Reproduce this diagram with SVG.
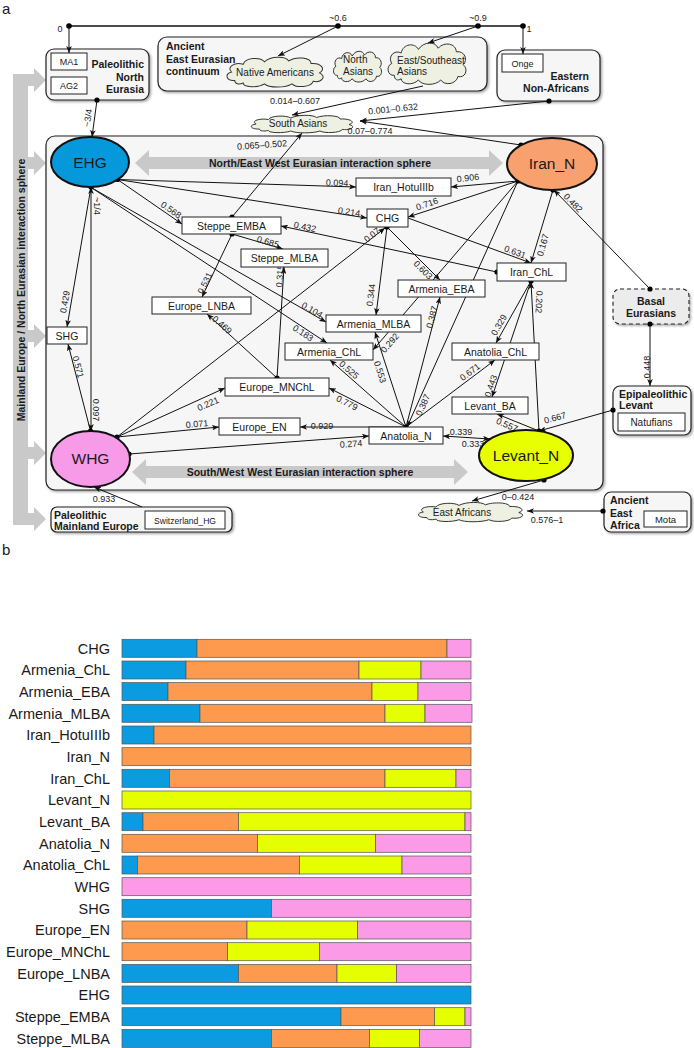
<svg xmlns="http://www.w3.org/2000/svg" xmlns:xlink="http://www.w3.org/1999/xlink" width="694" height="1048" viewBox="0 0 694 1048">
<style>
text{font-family:"Liberation Sans",Arial,Helvetica,sans-serif;fill:#1a1a1a}
.n{font-size:10.5px;text-anchor:middle}
.lb{font-size:9px;text-anchor:middle;dominant-baseline:central;fill:#222}
.g{font-size:10.5px;font-weight:bold}
.gr{font-size:10.5px;font-weight:bold;text-anchor:end}
.gm{font-size:10.5px;font-weight:bold;text-anchor:middle}
.box{fill:#fff;stroke:#222;stroke-width:1}
.grp{fill:#f6f6f6;stroke:#222;stroke-width:1.2;filter:url(#sh)}
.ell{stroke:#111;stroke-width:2}
.et{font-size:15.5px;text-anchor:middle}
.ct{font-size:10px}
.band{fill:#c9c9c9}
.bt{font-size:10.5px;font-weight:bold;fill:#1a1a1a}
.bl{font-size:14.5px;text-anchor:end}
.bar rect{stroke:#555;stroke-width:0.7}
.B{fill:#0a9be0}.O{fill:#fd9a4e}.Y{fill:#e6ff00}.P{fill:#fb9ae6}
</style>
<defs>
<filter id="sh" x="-10%" y="-10%" width="130%" height="140%"><feDropShadow dx="1.5" dy="1.5" stdDeviation="1" flood-color="#000" flood-opacity="0.35"/></filter>
<marker id="ah" viewBox="0 0 10 8" refX="10" refY="4" markerWidth="7" markerHeight="5.6" orient="auto-start-reverse" markerUnits="userSpaceOnUse"><path d="M0,0 L10,4 L0,8 L2.5,4 z" fill="#111"/></marker>
<symbol id="cloud" viewBox="0 0 100 40" preserveAspectRatio="none"><path vector-effect="non-scaling-stroke" fill="#eef0e2" stroke="#333" stroke-width="1" d="M12,30 C4,31 2,22 9,20 C4,14 12,8 20,11 C22,3 36,2 40,8 C46,1 60,1 63,7 C70,1 84,3 84,10 C94,9 98,17 92,21 C99,25 94,33 86,31 C84,38 70,39 66,34 C60,39 44,39 40,34 C34,39 20,38 20,33 C16,35 12,34 12,30 Z"/></symbol>
</defs>
<rect width="694" height="1048" fill="#fff"/>
<text x="2" y="14" style="font-size:15px">a</text>
<text x="2" y="555" style="font-size:15px">b</text>

<!-- left band -->
<g id="mainland-band">
<path class="band" d="M13,74 L34,74 L34,68 L46,80 L34,92 L34,86 L28,86 L28,157 L34,157 L34,151 L46,163 L34,175 L34,169 L28,169 L28,330 L34,330 L34,324 L46,336 L34,348 L34,342 L28,342 L28,447 L34,447 L34,441 L46,453 L34,465 L34,459 L28,459 L28,513 L34,513 L34,507 L46,519 L34,531 L34,525 L13,525 Z"/>
<text class="bt" text-anchor="middle" transform="translate(24.5,290) rotate(-90)">Mainland Europe / North Eurasian interaction sphere</text>
</g>

<!-- big interaction box -->
<g id="interaction-box">
<rect class="grp" x="46" y="136" width="557" height="354" rx="9"/>
<path class="band" d="M135,163 L149,150 L149,157 L489,157 L489,150 L503,163 L489,176 L489,169 L149,169 L149,176 Z"/>
<text class="bt" x="320" y="167" text-anchor="middle">North/East West Eurasian interaction sphere</text>
<path class="band" d="M132,472 L146,459 L146,466 L454,466 L454,459 L468,472 L454,485 L454,478 L146,478 L146,485 Z"/>
<text class="bt" x="300" y="476" text-anchor="middle">South/West West Eurasian interaction sphere</text>
</g>

<!-- group boxes -->
<g id="paleolithic-north-eurasia">
<rect class="grp" x="46" y="49" width="103" height="51" rx="8"/>
<rect class="box" x="51" y="53" width="36" height="17"/><text class="n" x="69" y="65" style="font-size:9px">MA1</text>
<rect class="box" x="51" y="77" width="36" height="17"/><text class="n" x="69" y="89" style="font-size:9px">AG2</text>
<text class="gr" x="144" y="68">Paleolithic</text><text class="gr" x="144" y="81">North</text><text class="gr" x="144" y="93">Eurasia</text>
</g>
<g id="ancient-east-eurasian">
<rect class="grp" x="158" y="37" width="329" height="54" rx="9"/>
<text class="g" x="166" y="50">Ancient</text><text class="g" x="166" y="63">East Eurasian</text><text class="g" x="166" y="75">continuum</text>
</g>
<g id="native-americans"><use xlink:href="#cloud" x="222" y="55" width="106" height="34"/><text class="ct" x="275" y="76" text-anchor="middle">Native Americans</text></g>
<g id="north-asians"><use xlink:href="#cloud" x="331" y="49" width="53" height="35"/><text class="ct" x="343" y="63">North</text><text class="ct" x="343" y="75">Asians</text></g>
<g id="east-southeast-asians"><use xlink:href="#cloud" x="384" y="40" width="86" height="47"/><text class="ct" x="397" y="64">East/Southeast</text><text class="ct" x="397" y="75">Asians</text></g>
<g id="eastern-non-africans">
<rect class="grp" x="497" y="50" width="103" height="51" rx="8"/>
<rect class="box" x="502" y="54" width="41" height="18"/><text class="n" x="522.5" y="66.5" style="font-size:9px">Onge</text>
<text class="gr" x="589" y="80">Eastern</text><text class="gr" x="589" y="92">Non-Africans</text>
</g>
<g id="south-asians"><use xlink:href="#cloud" x="246" y="114" width="112" height="20"/><text class="ct" x="298" y="127" text-anchor="middle">South Asians</text></g>
<g id="basal-eurasians">
<rect x="613" y="289" width="76" height="35" rx="7" fill="#ececec" stroke="#222" stroke-width="1.1" stroke-dasharray="4,3" filter="url(#sh)"/>
<text class="gm" x="651" y="305">Basal</text><text class="gm" x="651" y="317">Eurasians</text>
</g>
<g id="epipaleolithic-levant">
<rect class="grp" x="613" y="386" width="78" height="49" rx="7"/>
<text class="g" x="619" y="398">Epipaleolithic</text><text class="g" x="619" y="409">Levant</text>
<rect class="box" x="618" y="413" width="67" height="18"/><text class="n" x="651.5" y="426" style="font-size:10px">Natufians</text>
</g>
<g id="ancient-east-africa">
<rect class="grp" x="604" y="492" width="87" height="40" rx="7"/>
<text class="g" x="610" y="504">Ancient</text><text class="g" x="610" y="517">East</text><text class="g" x="610" y="529">Africa</text>
<rect class="box" x="644" y="511" width="43" height="16"/><text class="n" x="665.5" y="523" style="font-size:9.5px">Mota</text>
</g>
<g id="paleolithic-mainland-europe">
<rect class="grp" x="51" y="507" width="181" height="25" rx="6"/>
<text class="g" x="54" y="519">Paleolithic</text><text class="g" x="54" y="530">Mainland Europe</text>
<rect class="box" x="145" y="511" width="80" height="18"/><text class="n" x="185" y="523.5" style="font-size:8.6px">Switzerland_HG</text>
</g>
<g id="east-africans"><use xlink:href="#cloud" x="413" y="501" width="115" height="22"/><text class="ct" x="462" y="516" text-anchor="middle">East Africans</text></g>

<!-- connectors -->
<g id="connectors" fill="none" stroke="#111" stroke-width="1">
<line x1="69" y1="26" x2="523" y2="26" stroke-width="1.3"/>
<g marker-end="url(#ah)">
<line x1="69" y1="26" x2="69" y2="53"/>
<line x1="523" y1="26" x2="523" y2="54"/>
<line x1="338" y1="26" x2="278" y2="56"/>
<line x1="478" y1="26" x2="428" y2="43"/>
<line x1="423" y1="86" x2="292" y2="115"/>
<line x1="549" y1="101" x2="360" y2="121"/>
<line x1="521" y1="145" x2="360" y2="121"/>
<line x1="232" y1="217" x2="302" y2="133"/>
<line x1="97" y1="100" x2="92" y2="137"/>
<line x1="117.5" y1="179.5" x2="356" y2="187"/>
<line x1="117.5" y1="179.5" x2="367" y2="218"/>
<line x1="117.5" y1="179.5" x2="182" y2="224"/>
<line x1="92" y1="188" x2="326" y2="322"/>
<line x1="92" y1="188" x2="327" y2="343"/>
<line x1="91" y1="187" x2="67" y2="327"/>
<line x1="91" y1="187" x2="91" y2="431" marker-start="url(#ah)"/>
<line x1="90.5" y1="431" x2="68" y2="344"/>
<line x1="117" y1="437" x2="385" y2="228"/>
<line x1="117" y1="437" x2="225" y2="388"/>
<line x1="117" y1="437" x2="219" y2="427"/>
<line x1="129" y1="454" x2="369" y2="436"/>
<line x1="142" y1="507" x2="94" y2="487"/>
<line x1="518" y1="181" x2="451" y2="187"/>
<line x1="518" y1="181" x2="408" y2="217"/>
<line x1="518" y1="181" x2="373" y2="350"/>
<line x1="518" y1="181" x2="407" y2="427"/>
<line x1="553" y1="190" x2="531" y2="263"/>
<line x1="650" y1="289" x2="554" y2="190"/>
<line x1="408" y1="218" x2="531" y2="263"/>
<line x1="497" y1="272" x2="281" y2="226"/>
<line x1="387" y1="227" x2="376" y2="315"/>
<line x1="387" y1="227" x2="440" y2="280"/>
<line x1="232" y1="234" x2="202" y2="297"/>
<line x1="232" y1="234" x2="283" y2="249"/>
<line x1="277" y1="378" x2="284" y2="267"/>
<line x1="277" y1="378" x2="207" y2="314"/>
<line x1="406" y1="427" x2="329" y2="388"/>
<line x1="406" y1="427" x2="330" y2="360"/>
<line x1="406" y1="427" x2="375" y2="332"/>
<line x1="406" y1="427" x2="440" y2="297"/>
<line x1="406" y1="427" x2="495" y2="360"/>
<line x1="406" y1="427" x2="300" y2="427"/>
<line x1="531" y1="281" x2="496" y2="343"/>
<line x1="531" y1="281" x2="492" y2="397"/>
<line x1="539" y1="431" x2="531" y2="282"/>
<line x1="539" y1="431" x2="497" y2="414"/>
<line x1="613" y1="410" x2="539" y2="431"/>
<line x1="650" y1="324" x2="650" y2="386"/>
<line x1="443" y1="436" x2="490" y2="439" marker-start="url(#ah)"/>
<line x1="544" y1="480" x2="472" y2="501"/>
<line x1="603" y1="511" x2="527" y2="511"/>
</g>
<g class="dots" stroke="none" fill="#000">
<circle cx="69" cy="26" r="2.8"/><circle cx="338" cy="26" r="2.8"/><circle cx="478" cy="26" r="2.8"/><circle cx="523" cy="26" r="2.8"/>
<circle cx="97" cy="100" r="2.6"/><circle cx="549" cy="101" r="2.6"/><circle cx="521" cy="145" r="2.6"/><circle cx="232" cy="217" r="2.6"/>
<circle cx="117.5" cy="179.5" r="2.6"/><circle cx="91" cy="187" r="2.6"/><circle cx="90.5" cy="431" r="2.6"/><circle cx="117" cy="437" r="2.6"/>
<circle cx="129" cy="454" r="2.6"/><circle cx="518" cy="181" r="2.6"/><circle cx="553" cy="190" r="2.6"/><circle cx="650" cy="289" r="2.6"/>
<circle cx="497" cy="272" r="2.6"/><circle cx="387" cy="227" r="2.6"/><circle cx="232" cy="234" r="2.6"/><circle cx="277" cy="378" r="2.6"/>
<circle cx="406" cy="427" r="2.6"/><circle cx="531" cy="281" r="2.6"/><circle cx="539" cy="431" r="2.6"/><circle cx="613" cy="410" r="2.6"/>
<circle cx="650" cy="324" r="2.6"/><circle cx="544" cy="480" r="2.6"/><circle cx="603" cy="511" r="2.6"/>
</g>
</g>

<!-- edge labels -->
<g id="edge-labels">
<text class="lb" transform="translate(338,18)">~0.6</text>
<text class="lb" transform="translate(478,18)">~0.9</text>
<text class="lb" transform="translate(60,29)">0</text>
<text class="lb" transform="translate(529,29)">1</text>
<text class="lb" transform="translate(88,118) rotate(-82)">~3/4</text>
<text class="lb" transform="translate(295,101)">0.014–0.607</text>
<text class="lb" transform="translate(393,109) rotate(-6)">0.001–0.632</text>
<text class="lb" transform="translate(370,131)">0.07–0.774</text>
<text class="lb" transform="translate(262,145) rotate(-4)">0.065–0.502</text>
<text class="lb" transform="translate(337,183) rotate(2)">0.094</text>
<text class="lb" transform="translate(349,212) rotate(9)">0.214</text>
<text class="lb" transform="translate(171,210) rotate(35)">0.568</text>
<text class="lb" transform="translate(97,206) rotate(90)">~1/4</text>
<text class="lb" transform="translate(468,178) rotate(-6)">0.906</text>
<text class="lb" transform="translate(427,204) rotate(-19)">0.716</text>
<text class="lb" transform="translate(305,227) rotate(12)">0.432</text>
<text class="lb" transform="translate(268,242) rotate(16)">0.685</text>
<text class="lb" transform="translate(515,252) rotate(20)">0.631</text>
<text class="lb" transform="translate(543,245) rotate(-74)">0.167</text>
<text class="lb" transform="translate(573,203) rotate(46)">0.482</text>
<text class="lb" transform="translate(205,283) rotate(-64)">0.531</text>
<text class="lb" transform="translate(280,276) rotate(-86)">0.315</text>
<text class="lb" transform="translate(222,325) rotate(41)">0.469</text>
<text class="lb" transform="translate(371,295) rotate(-83)">0.344</text>
<text class="lb" transform="translate(423,270) rotate(45)">0.603</text>
<text class="lb" transform="translate(372,235) rotate(-38)">0.07</text>
<text class="lb" transform="translate(312,310) rotate(30)">0.104</text>
<text class="lb" transform="translate(303,333) rotate(33)">0.183</text>
<text class="lb" transform="translate(390,343) rotate(-49)">0.292</text>
<text class="lb" transform="translate(380,372) rotate(72)">0.553</text>
<text class="lb" transform="translate(349,370) rotate(41)">0.525</text>
<text class="lb" transform="translate(347,403) rotate(27)">0.779</text>
<text class="lb" transform="translate(432,317) rotate(-75)">0.387</text>
<text class="lb" transform="translate(423,405) rotate(-65)">0.387</text>
<text class="lb" transform="translate(470,372) rotate(-37)">0.671</text>
<text class="lb" transform="translate(499,325) rotate(-60)">0.329</text>
<text class="lb" transform="translate(491,386) rotate(-71)">0.443</text>
<text class="lb" transform="translate(539,302) rotate(93)">0.202</text>
<text class="lb" transform="translate(507,425) rotate(23)">0.557</text>
<text class="lb" transform="translate(555,418) rotate(-15)">0.667</text>
<text class="lb" transform="translate(647,367) rotate(-90)">0.448</text>
<text class="lb" transform="translate(461,432)">0.339</text>
<text class="lb" transform="translate(473,444)">0.333</text>
<text class="lb" transform="translate(351,444) rotate(-4)">0.274</text>
<text class="lb" transform="translate(322,426)">0.929</text>
<text class="lb" transform="translate(197,424) rotate(-5)">0.071</text>
<text class="lb" transform="translate(208,404) rotate(-24)">0.221</text>
<text class="lb" transform="translate(104,499)">0.933</text>
<text class="lb" transform="translate(518,497)">0–0.424</text>
<text class="lb" transform="translate(547,520)">0.576–1</text>
<text class="lb" transform="translate(65,302) rotate(-80)">0.429</text>
<text class="lb" transform="translate(78,367) rotate(75)">0.571</text>
<text class="lb" transform="translate(96,410) rotate(90)">0.097</text>
</g>

<!-- ellipse nodes -->
<g id="EHG"><ellipse class="ell" cx="90" cy="162" rx="39" ry="25" fill="#0599dc"/><text class="et" x="90" y="167.5">EHG</text></g>
<g id="Iran_N"><ellipse class="ell" cx="552" cy="164" rx="45" ry="26" fill="#f9a06f"/><text class="et" x="552" y="169">Iran_N</text></g>
<g id="WHG"><ellipse class="ell" cx="90.5" cy="459" rx="39.5" ry="28" fill="#f79ae8"/><text class="et" x="90.5" y="464">WHG</text></g>
<g id="Levant_N"><ellipse class="ell" cx="526" cy="455.5" rx="47" ry="25.5" fill="#e8ff00"/><text class="et" x="526" y="461">Levant_N</text></g>

<!-- rectangle nodes -->
<g id="Iran_HotuIIIb"><rect class="box" x="356" y="178" width="95" height="18"/><text class="n" x="403.5" y="191">Iran_HotuIIIb</text></g>
<g id="CHG"><rect class="box" x="367" y="209" width="41" height="18"/><text class="n" x="387.5" y="222">CHG</text></g>
<g id="Steppe_EMBA"><rect class="box" x="182" y="217" width="99" height="17"/><text class="n" x="231.5" y="229.5">Steppe_EMBA</text></g>
<g id="Steppe_MLBA"><rect class="box" x="241" y="249" width="87" height="18"/><text class="n" x="284.5" y="262">Steppe_MLBA</text></g>
<g id="Iran_ChL"><rect class="box" x="497" y="263" width="69" height="18"/><text class="n" x="531.5" y="276">Iran_ChL</text></g>
<g id="Armenia_EBA"><rect class="box" x="398" y="280" width="87" height="17"/><text class="n" x="441.5" y="292.5">Armenia_EBA</text></g>
<g id="Europe_LNBA"><rect class="box" x="152" y="297" width="99" height="17"/><text class="n" x="201.5" y="309.5">Europe_LNBA</text></g>
<g id="Armenia_MLBA"><rect class="box" x="326" y="315" width="95" height="17"/><text class="n" x="373.5" y="327.5">Armenia_MLBA</text></g>
<g id="SHG"><rect class="box" x="47" y="327" width="40" height="17"/><text class="n" x="67" y="339.5">SHG</text></g>
<g id="Armenia_ChL"><rect class="box" x="285" y="343" width="88" height="17"/><text class="n" x="329" y="355.5">Armenia_ChL</text></g>
<g id="Anatolia_ChL"><rect class="box" x="452" y="343" width="87" height="17"/><text class="n" x="495.5" y="355.5">Anatolia_ChL</text></g>
<g id="Europe_MNChL"><rect class="box" x="225" y="378" width="104" height="18"/><text class="n" x="277" y="391">Europe_MNChL</text></g>
<g id="Levant_BA"><rect class="box" x="452" y="397" width="76" height="17"/><text class="n" x="490" y="409.5">Levant_BA</text></g>
<g id="Europe_EN"><rect class="box" x="219" y="418" width="81" height="17"/><text class="n" x="259.5" y="430.5">Europe_EN</text></g>
<g id="Anatolia_N"><rect class="box" x="369" y="427" width="74" height="17"/><text class="n" x="406" y="439.5">Anatolia_N</text></g>

<!-- bar chart -->
<g id="barchart">
<g class="bar">
<rect class="B" x="122" y="639.3" width="75" height="18"/><rect class="O" x="197" y="639.3" width="250" height="18"/><rect class="P" x="447" y="639.3" width="24" height="18"/>
<rect class="B" x="122" y="661" width="64" height="18"/><rect class="O" x="186" y="661" width="173" height="18"/><rect class="Y" x="359" y="661" width="62" height="18"/><rect class="P" x="421" y="661" width="50" height="18"/>
<rect class="B" x="122" y="682.6" width="46" height="18"/><rect class="O" x="168" y="682.6" width="204" height="18"/><rect class="Y" x="372" y="682.6" width="46" height="18"/><rect class="P" x="418" y="682.6" width="53" height="18"/>
<rect class="B" x="122" y="704.3" width="78" height="18"/><rect class="O" x="200" y="704.3" width="185" height="18"/><rect class="Y" x="385" y="704.3" width="40" height="18"/><rect class="P" x="425" y="704.3" width="47" height="18"/>
<rect class="B" x="122" y="726" width="32" height="18"/><rect class="O" x="154" y="726" width="317" height="18"/>
<rect class="O" x="122" y="747.7" width="349" height="18"/>
<rect class="B" x="122" y="769.3" width="47.5" height="18"/><rect class="O" x="169.5" y="769.3" width="215.5" height="18"/><rect class="Y" x="385" y="769.3" width="71" height="18"/><rect class="P" x="456" y="769.3" width="15" height="18"/>
<rect class="Y" x="122" y="791" width="349" height="18"/>
<rect class="B" x="122" y="812.7" width="21" height="18"/><rect class="O" x="143" y="812.7" width="95.5" height="18"/><rect class="Y" x="238.5" y="812.7" width="226.5" height="18"/><rect class="P" x="465" y="812.7" width="6" height="18"/>
<rect class="O" x="122" y="834.3" width="135.5" height="18"/><rect class="Y" x="257.5" y="834.3" width="118" height="18"/><rect class="P" x="375.5" y="834.3" width="95.5" height="18"/>
<rect class="B" x="122" y="856" width="15.5" height="18"/><rect class="O" x="137.5" y="856" width="162" height="18"/><rect class="Y" x="299.5" y="856" width="102.5" height="18"/><rect class="P" x="402" y="856" width="69" height="18"/>
<rect class="P" x="122" y="877.7" width="349" height="18"/>
<rect class="B" x="122" y="899.3" width="149.5" height="18"/><rect class="P" x="271.5" y="899.3" width="199.5" height="18"/>
<rect class="O" x="122" y="921" width="125" height="18"/><rect class="Y" x="247" y="921" width="110.5" height="18"/><rect class="P" x="357.5" y="921" width="113.5" height="18"/>
<rect class="O" x="122" y="942.7" width="105.5" height="18"/><rect class="Y" x="227.5" y="942.7" width="92" height="18"/><rect class="P" x="319.5" y="942.7" width="151.5" height="18"/>
<rect class="B" x="122" y="964.4" width="116.5" height="18"/><rect class="O" x="238.5" y="964.4" width="98.5" height="18"/><rect class="Y" x="337" y="964.4" width="59.5" height="18"/><rect class="P" x="396.5" y="964.4" width="74.5" height="18"/>
<rect class="B" x="122" y="986" width="349" height="18"/>
<rect class="B" x="122" y="1007.7" width="219" height="18"/><rect class="O" x="341" y="1007.7" width="93.5" height="18"/><rect class="Y" x="434.5" y="1007.7" width="30.5" height="18"/><rect class="P" x="465" y="1007.7" width="6" height="18"/>
<rect class="B" x="122" y="1029.4" width="149.5" height="18"/><rect class="O" x="271.5" y="1029.4" width="98" height="18"/><rect class="Y" x="369.5" y="1029.4" width="50" height="18"/><rect class="P" x="419.5" y="1029.4" width="51.5" height="18"/>
</g>
<g class="labels">
<text class="bl" x="110" y="653.6">CHG</text>
<text class="bl" x="110" y="675.3">Armenia_ChL</text>
<text class="bl" x="110" y="696.9">Armenia_EBA</text>
<text class="bl" x="110" y="718.6">Armenia_MLBA</text>
<text class="bl" x="110" y="740.3">Iran_HotuIIIb</text>
<text class="bl" x="110" y="762">Iran_N</text>
<text class="bl" x="110" y="783.6">Iran_ChL</text>
<text class="bl" x="110" y="805.3">Levant_N</text>
<text class="bl" x="110" y="827">Levant_BA</text>
<text class="bl" x="110" y="848.6">Anatolia_N</text>
<text class="bl" x="110" y="870.3">Anatolia_ChL</text>
<text class="bl" x="110" y="892">WHG</text>
<text class="bl" x="110" y="913.6">SHG</text>
<text class="bl" x="110" y="935.3">Europe_EN</text>
<text class="bl" x="110" y="957">Europe_MNChL</text>
<text class="bl" x="110" y="978.7">Europe_LNBA</text>
<text class="bl" x="110" y="1000.3">EHG</text>
<text class="bl" x="110" y="1022">Steppe_EMBA</text>
<text class="bl" x="110" y="1043.7">Steppe_MLBA</text>
</g>
</g>
</svg>
